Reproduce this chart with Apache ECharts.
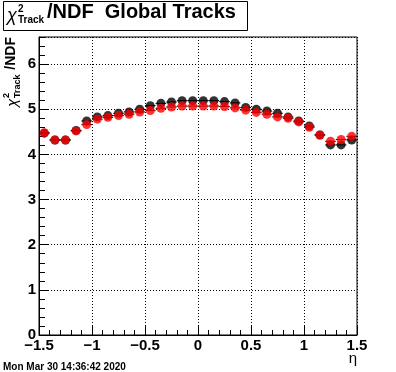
<!DOCTYPE html>
<html><head><meta charset="utf-8">
<script src="https://cdn.jsdelivr.net/npm/echarts@6/dist/echarts.min.js"></script>
<style>html,body{margin:0;padding:0;background:#fff}#c{width:396px;height:372px}</style>
</head><body><div id="c"></div>
<script>
var etaBins = [-1.45,-1.35,-1.25,-1.15,-1.05,-0.95,-0.85,-0.75,-0.65,-0.55,-0.45,-0.35,-0.25,-0.15,-0.05,0.05,0.15,0.25,0.35,0.45,0.55,0.65,0.75,0.85,0.95,1.05,1.15,1.25,1.35,1.45];
var binHalfWidth = 0.05;
var blackValues = [4.47,4.32,4.32,4.53,4.74,4.83,4.86,4.91,4.94,5.00,5.08,5.13,5.16,5.19,5.19,5.19,5.19,5.17,5.14,5.04,5.00,4.96,4.91,4.83,4.74,4.63,4.43,4.21,4.21,4.32];
var redValues = [4.48,4.32,4.32,4.52,4.66,4.78,4.82,4.86,4.89,4.94,4.97,5.02,5.05,5.07,5.07,5.07,5.07,5.06,5.03,4.98,4.93,4.89,4.83,4.80,4.72,4.60,4.43,4.29,4.33,4.40];
var xTicks = {min: -1.5, max: 1.5, step: 0.5};
var yTicks = {min: 0, max: 6.6, step: 1, minorStep: 0.2};
var titleText = "/NDF  Global Tracks";
var dateText = "Mon Mar 30 14:36:42 2020";
var xTitle = "η";

function pairs(vals){ return etaBins.map(function(x,i){ return [x, vals[i]]; }); }
function errBars(api){
  var x = api.value(0), y = api.value(1);
  var p1 = api.coord([x - binHalfWidth, y]);
  var p2 = api.coord([x + binHalfWidth, y]);
  return {type:'line', shape:{x1:p1[0], y1:p1[1], x2:p2[0], y2:p2[1]}, style:{stroke:'#000', lineWidth:1}};
}
var FONT = '"Liberation Sans", Arial, Helvetica, sans-serif';
var chart = echarts.init(document.getElementById('c'), null, {renderer:'canvas'});
var dotted = {color:'#000', width:1, type:[1,2]};
chart.setOption({
  animation:false,
  backgroundColor:'#fff',
  grid:{left:39, right:39, top:37, bottom:37, show:true, borderColor:'#000', borderWidth:1, backgroundColor:'transparent'},
  xAxis:{type:'value', min:xTicks.min, max:xTicks.max, interval:xTicks.step,
    axisLine:{show:true, onZero:false, lineStyle:{color:'#000', width:1}},
    axisTick:{show:true, inside:true, length:9, lineStyle:{color:'#000'}},
    minorTick:{show:true, splitNumber:5, length:5, lineStyle:{color:'#000'}},
    splitLine:{show:true, lineStyle:dotted},
    axisLabel:{margin:3, color:'#000', fontFamily:FONT, fontWeight:'bold', fontSize:15,
      formatter:function(v){ return String(v).replace('-', '\u2212'); }}
  },
  yAxis:[
    {type:'value', min:yTicks.min, max:yTicks.max, interval:yTicks.step, position:'left',
     axisLine:{show:true, onZero:false, lineStyle:{color:'#000', width:1}},
     axisTick:{show:true, inside:true, length:10, lineStyle:{color:'#000'}},
     splitLine:{show:true, lineStyle:dotted},
     axisLabel:{margin:3, color:'#000', fontFamily:FONT, fontWeight:'bold', fontSize:15, showMaxLabel:false,
       formatter:function(v){ return (Math.abs(v - Math.round(v)) < 1e-6) ? String(Math.round(v)) : ''; }}
    },
    {type:'value', min:yTicks.min, max:yTicks.max, interval:yTicks.minorStep, position:'left', offset:0,
     axisLine:{show:false, onZero:false}, axisLabel:{show:false}, splitLine:{show:false},
     axisTick:{show:true, inside:true, length:6, lineStyle:{color:'#000'}}
    }
  ],
  series:[
    {type:'custom', name:'black-err', data:pairs(blackValues), renderItem:function(p,api){return errBars(api);}, z:2, silent:true},
    {type:'scatter', name:'black', data:pairs(blackValues), symbol:'circle', symbolSize:9, itemStyle:{color:'#000'}, z:3},
    {type:'custom', name:'red-err', data:pairs(redValues), renderItem:function(p,api){return errBars(api);}, z:4, silent:true},
    {type:'scatter', name:'red', data:pairs(redValues), symbol:'circle', symbolSize:9, itemStyle:{color:'#ff0000'}, z:5}
  ],
  graphic:[
    {type:'rect', shape:{x:3.5, y:1.5, width:244, height:29}, style:{fill:'#fff', stroke:'#000', lineWidth:1}, z:10},
    {type:'text', x:7, y:25, style:{text:'χ', font:'italic 18px ' + FONT, fill:'#000', textVerticalAlign:'bottom'}, z:11},
    {type:'text', x:18, y:14, style:{text:'2', font:'bold 10px ' + FONT, fill:'#000', textVerticalAlign:'bottom'}, z:11},
    {type:'text', x:18, y:25, style:{text:'Track', font:'bold 10px ' + FONT, fill:'#000', textVerticalAlign:'bottom'}, z:11},
    {type:'text', x:47, y:22, style:{text:titleText, font:'bold 20px ' + FONT, fill:'#000', textVerticalAlign:'bottom'}, z:11},
    {type:'group', x:20, y:37, rotation:Math.PI/2, z:11, children:[
      {type:'text', x:-70, y:0, style:{text:'χ', font:'italic 15px ' + FONT, fill:'#000', textVerticalAlign:'bottom'}},
      {type:'text', x:-61, y:-9, style:{text:'2', font:'bold 9px ' + FONT, fill:'#000', textVerticalAlign:'bottom'}},
      {type:'text', x:-61, y:2, style:{text:'Track', font:'bold 9px ' + FONT, fill:'#000', textVerticalAlign:'bottom'}},
      {type:'text', x:0, y:-2, style:{text:'/NDF', font:'bold 14px ' + FONT, fill:'#000', textAlign:'right', textVerticalAlign:'bottom'}}
    ]},
    {type:'text', x:357, y:366, style:{text:xTitle, font:'15px ' + FONT, fill:'#000', textAlign:'right', textVerticalAlign:'bottom'}, z:11},
    {type:'text', x:3, y:372, style:{text:dateText, font:'bold 10px ' + FONT, fill:'#000', textVerticalAlign:'bottom'}, z:11}
  ]
});
</script></body></html>
